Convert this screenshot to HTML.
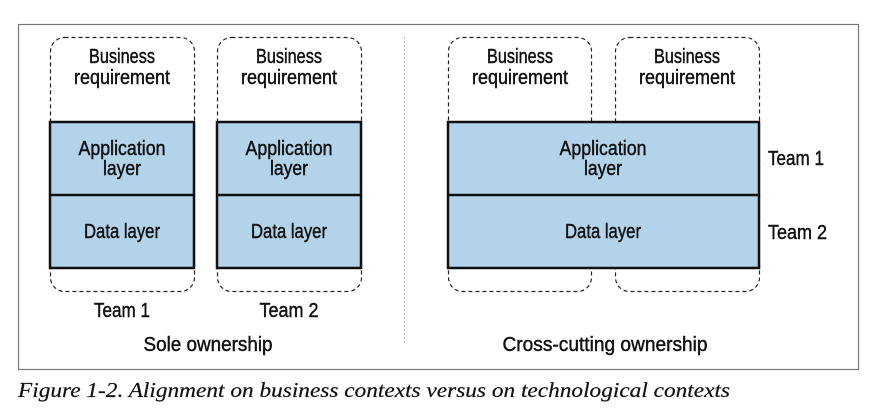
<!DOCTYPE html>
<html><head><meta charset="utf-8"><style>
html,body{margin:0;padding:0;background:#fff;}
svg{display:block;}
text{font-family:"Liberation Sans",sans-serif;font-size:20px;fill:#111;stroke:#111;stroke-width:0.45;}
.c{font-family:"Liberation Serif",serif;font-style:italic;font-size:21px;stroke-width:0.2;}
</style></head><body>
<svg width="879" height="412" viewBox="0 0 879 412">
<rect x="18.5" y="24.5" width="840" height="345" fill="#fff" stroke="#777" stroke-width="1.2"/>
<line x1="404.5" y1="37" x2="404.5" y2="343" stroke="#bbb" stroke-dasharray="2,2"/>
<g fill="none" stroke="#222" stroke-width="1.2" stroke-dasharray="4,3">
<rect x="50.5" y="37.5" width="144" height="254" rx="14"/>
<rect x="217.5" y="37.5" width="144" height="254" rx="14"/>
<rect x="448.5" y="37.5" width="143" height="254" rx="14"/>
<rect x="615.5" y="37.5" width="144" height="254" rx="14"/>
</g>
<g fill="#b3d3ea" stroke="#111" stroke-width="2.5">
<rect x="50" y="122" width="144" height="146"/>
<line x1="50" y1="195" x2="194" y2="195"/>
<rect x="217" y="122" width="144" height="146"/>
<line x1="217" y1="195" x2="361" y2="195"/>
<rect x="448" y="122" width="311" height="146"/>
<line x1="448" y1="195" x2="759" y2="195"/>
</g>
<g text-anchor="middle">
<text x="122" y="63" textLength="66" lengthAdjust="spacingAndGlyphs">Business</text>
<text x="122" y="84" textLength="96" lengthAdjust="spacingAndGlyphs">requirement</text>
<text x="289" y="63" textLength="66" lengthAdjust="spacingAndGlyphs">Business</text>
<text x="289" y="84" textLength="96" lengthAdjust="spacingAndGlyphs">requirement</text>
<text x="520" y="63" textLength="66" lengthAdjust="spacingAndGlyphs">Business</text>
<text x="520" y="84" textLength="96" lengthAdjust="spacingAndGlyphs">requirement</text>
<text x="687" y="63" textLength="66" lengthAdjust="spacingAndGlyphs">Business</text>
<text x="687" y="84" textLength="96" lengthAdjust="spacingAndGlyphs">requirement</text>
<text x="122" y="155" textLength="87" lengthAdjust="spacingAndGlyphs">Application</text>
<text x="122" y="175" textLength="38" lengthAdjust="spacingAndGlyphs">layer</text>
<text x="289" y="155" textLength="87" lengthAdjust="spacingAndGlyphs">Application</text>
<text x="289" y="175" textLength="38" lengthAdjust="spacingAndGlyphs">layer</text>
<text x="603" y="155" textLength="87" lengthAdjust="spacingAndGlyphs">Application</text>
<text x="603" y="175" textLength="38" lengthAdjust="spacingAndGlyphs">layer</text>
<text x="122" y="238" textLength="76" lengthAdjust="spacingAndGlyphs">Data layer</text>
<text x="289" y="238" textLength="76" lengthAdjust="spacingAndGlyphs">Data layer</text>
<text x="603" y="238" textLength="76" lengthAdjust="spacingAndGlyphs">Data layer</text>
<text x="122" y="317" textLength="56" lengthAdjust="spacingAndGlyphs">Team 1</text>
<text x="289" y="317" textLength="59" lengthAdjust="spacingAndGlyphs">Team 2</text>
<text x="208" y="351" textLength="129" lengthAdjust="spacingAndGlyphs">Sole ownership</text>
<text x="605" y="351" textLength="205" lengthAdjust="spacingAndGlyphs">Cross-cutting ownership</text>
</g>
<text x="768" y="165" textLength="56" lengthAdjust="spacingAndGlyphs">Team 1</text>
<text x="768" y="239" textLength="59" lengthAdjust="spacingAndGlyphs">Team 2</text>
<text class="c" x="18" y="397" textLength="712" lengthAdjust="spacingAndGlyphs">Figure 1-2. Alignment on business contexts versus on technological contexts</text>
</svg>
</body></html>
